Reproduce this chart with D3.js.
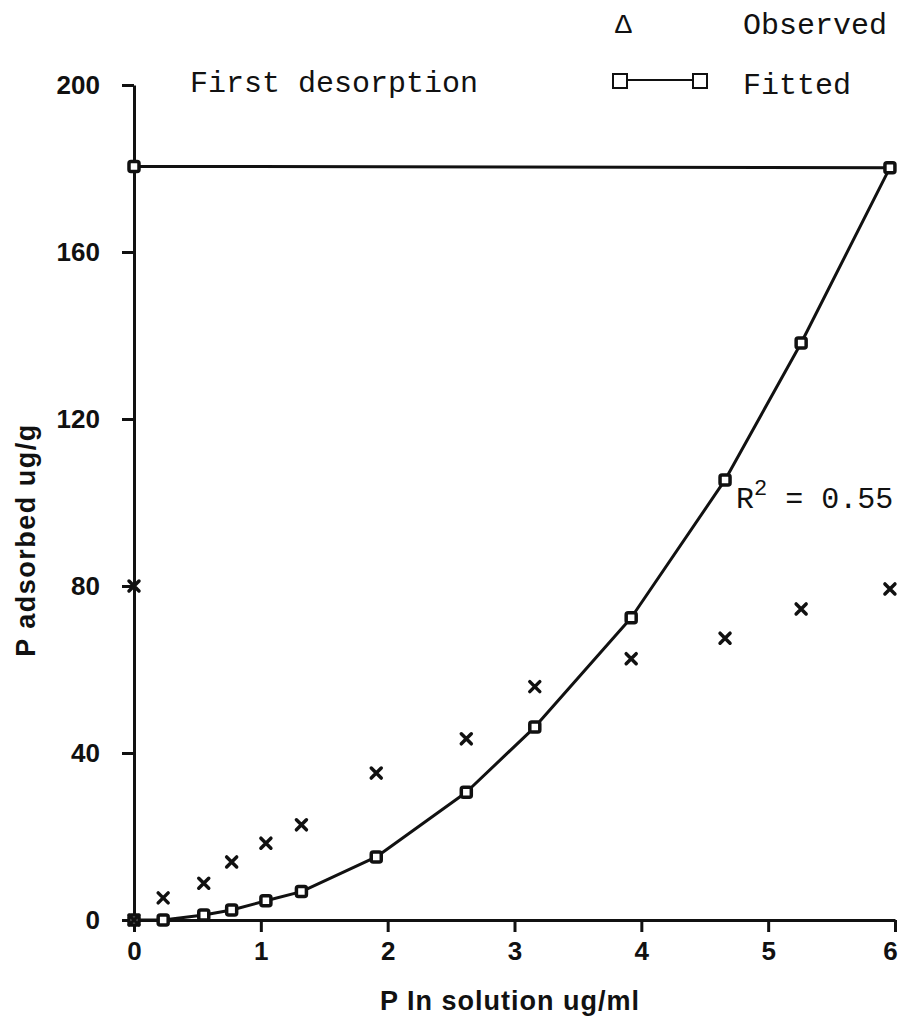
<!DOCTYPE html>
<html>
<head>
<meta charset="utf-8">
<script src="https://cdn.jsdelivr.net/npm/d3@7"></script>
<style>
  body { margin: 0; background: #fff; }
  .tick-label { font-family: "Liberation Sans", sans-serif; font-weight: 700; font-size: 26px; fill: #111; }
  .axis-title { font-family: "Liberation Sans", sans-serif; font-weight: 700; font-size: 27px; fill: #111; }
  .mono { font-family: "Liberation Mono", "DejaVu Sans Mono", monospace; font-size: 30px; fill: #111; }
</style>
</head>
<body>
<div id="chart"></div>
<script>

// data
const solutionP = [0, 0.23, 0.55, 0.77, 1.04, 1.32, 1.91, 2.62, 3.16, 3.92, 4.66, 5.26, 5.96, 0]
const fittedP   = [0, 0, 1.2, 2.4, 4.6, 6.8, 15.1, 30.6, 46.2, 72.4, 105.4, 138.2, 180.2, 180.5]
const observedP = [0, 5.3, 8.8, 13.9, 18.4, 22.8, 35.2, 43.4, 55.9, 62.6, 67.5, 74.5, 79.3, 80]

const xTicks = [0, 1, 2, 3, 4, 5, 6]
const yTicks = [0, 40, 80, 120, 160, 200]

const fitted = solutionP.map((x, i) => ({x, y: fittedP[i]}))
const observed = solutionP.map((x, i) => ({x, y: observedP[i]}))

// 1. dimensions

let dimensions = {
  width: 900,
  height: 1020,
  margin: {
    top: 85,
    right: 5,
    bottom: 100,
    left: 134,
  },
}
dimensions.boundedWidth = dimensions.width
  - dimensions.margin.left
  - dimensions.margin.right
dimensions.boundedHeight = dimensions.height
  - dimensions.margin.top
  - dimensions.margin.bottom

// 2. canvas

const svg = d3.select("#chart")
  .append("svg")
    .attr("width", dimensions.width)
    .attr("height", dimensions.height)

const bounds = svg.append("g")
    .attr("transform", `translate(${dimensions.margin.left},${dimensions.margin.top})`)

// 3. scales

const xScale = d3.scaleLinear()
    .domain([0, 6])
    .range([0, dimensions.boundedWidth])

const yScale = d3.scaleLinear()
    .domain([0, 200])
    .range([dimensions.boundedHeight, 0])

// 4. axes

const xAxis = bounds.append("g")
    .attr("transform", `translate(0,${dimensions.boundedHeight})`)
    .call(d3.axisBottom(xScale).tickValues(xTicks).tickFormat(d3.format("d"))
      .tickSize(12).tickPadding(10).tickSizeOuter(0))

const yAxis = bounds.append("g")
    .call(d3.axisLeft(yScale).tickValues(yTicks).tickFormat(d3.format("d"))
      .tickSize(12).tickPadding(22).tickSizeOuter(0))

;[xAxis, yAxis].forEach(axis => {
  axis.select(".domain").attr("stroke", "#111").attr("stroke-width", 3)
  axis.selectAll(".tick line").attr("stroke", "#111").attr("stroke-width", 3)
  axis.selectAll(".tick text").attr("class", "tick-label").attr("font-size", null).attr("font-family", null)
})

// keep the last x label inside the page
xAxis.selectAll(".tick text").filter(d => d === 6).attr("dx", -5)

// 5. data

const lineGenerator = d3.line()
    .x(d => xScale(d.x))
    .y(d => yScale(d.y))

bounds.append("path")
    .datum(fitted)
    .attr("d", lineGenerator)
    .attr("fill", "none")
    .attr("stroke", "#111")
    .attr("stroke-width", 3)
    .attr("stroke-linejoin", "round")

const sq = 10
bounds.selectAll(".fit-mark")
  .data(fitted)
  .enter().append("rect")
    .attr("class", "fit-mark")
    .attr("x", d => xScale(d.x) - sq / 2)
    .attr("y", d => yScale(d.y) - sq / 2)
    .attr("width", sq)
    .attr("height", sq)
    .attr("rx", 2)
    .attr("fill", "#fff")
    .attr("stroke", "#111")
    .attr("stroke-width", 3.5)

const cross = 5
bounds.selectAll(".obs-mark")
  .data(observed)
  .enter().append("path")
    .attr("class", "obs-mark")
    .attr("d", d => {
      const cx = xScale(d.x), cy = yScale(d.y)
      return `M${cx - cross},${cy - cross}L${cx + cross},${cy + cross}M${cx + cross},${cy - cross}L${cx - cross},${cy + cross}`
    })
    .attr("stroke", "#111")
    .attr("stroke-width", 3.5)
    .attr("stroke-linecap", "round")

// 6. peripherals

svg.append("text")
    .attr("class", "axis-title")
    .attr("x", 510)
    .attr("y", 1010)
    .attr("text-anchor", "middle")
    .style("letter-spacing", "1px")
    .text("P In solution ug/ml")

svg.append("text")
    .attr("class", "axis-title")
    .attr("transform", "translate(35,540) rotate(-90)")
    .attr("text-anchor", "middle")
    .style("letter-spacing", "1.5px")
    .text("P adsorbed ug/g")

svg.append("text")
    .attr("class", "mono")
    .attr("x", 190)
    .attr("y", 92)
    .text("First desorption")

// legend
svg.append("text")
    .attr("class", "mono")
    .attr("x", 615)
    .attr("y", 33)
    .style("font-size", "28px")
    .text("Δ")

svg.append("text")
    .attr("class", "mono")
    .attr("x", 743)
    .attr("y", 34)
    .text("Observed")

svg.append("line")
    .attr("x1", 628).attr("x2", 692)
    .attr("y1", 80).attr("y2", 80)
    .attr("stroke", "#111")
    .attr("stroke-width", 2)

;[613, 693].forEach(x => {
  svg.append("rect")
      .attr("x", x).attr("y", 74)
      .attr("width", 14).attr("height", 14)
      .attr("fill", "#fff")
      .attr("stroke", "#111")
      .attr("stroke-width", 2)
})

svg.append("text")
    .attr("class", "mono")
    .attr("x", 743)
    .attr("y", 94)
    .text("Fitted")

const r2 = svg.append("text")
    .attr("class", "mono")
    .attr("x", 736)
    .attr("y", 508)
r2.append("tspan").text("R")
r2.append("tspan").attr("dy", -13).style("font-size", "22px").text("2")
r2.append("tspan").attr("dy", 13).text(" = 0.55")

</script>
</body>
</html>
